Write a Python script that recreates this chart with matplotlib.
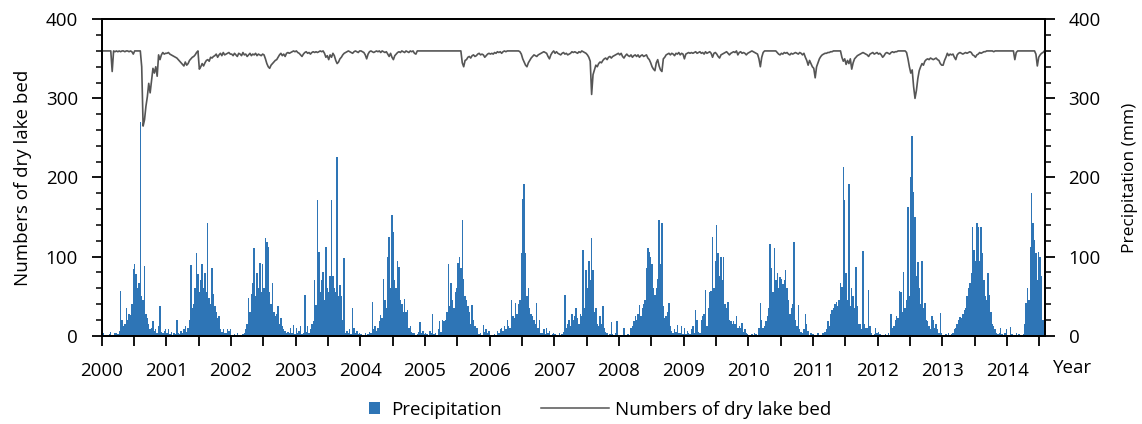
"""
Dry lake bed counts vs precipitation, 2000-2014 (8-day steps).
Writes out.png.
"""

import matplotlib

matplotlib.use("Agg")
import matplotlib.pyplot as plt
import numpy as np
from matplotlib.lines import Line2D
from matplotlib.patches import Patch
from matplotlib.ticker import MultipleLocator

OUTPUT_PATH = "out.png"
STEPS_PER_YEAR = 46  # 8-day composites
YEARS = list(range(2000, 2015))

BAR_COLOR = "#2E75B6"
LINE_COLOR = "#555555"

# precipitation (mm), one value per 8-day step
precip_2000 = [17, 3, 0, 0, 0, 2, 5, 0, 1, 3, 4, 2, 6, 56, 20, 12, 15, 35, 20, 27, 26, 40, 84, 90, 78, 60, 66, 270, 50, 45, 88, 28, 22, 15, 8, 10, 18, 6, 8, 4, 12, 38, 5, 3, 6, 8]
precip_2001 = [3, 8, 2, 5, 1, 3, 2, 20, 4, 2, 6, 3, 8, 12, 5, 10, 20, 89, 35, 40, 60, 104, 78, 55, 70, 90, 60, 79, 55, 143, 48, 40, 85, 53, 37, 30, 22, 25, 8, 5, 9, 4, 3, 9, 6, 8]
precip_2002 = [1, 0, 2, 1, 4, 0, 1, 0, 2, 3, 8, 15, 48, 30, 53, 66, 111, 50, 79, 60, 92, 55, 90, 60, 124, 119, 112, 55, 40, 66, 30, 25, 28, 37, 15, 22, 12, 8, 6, 4, 5, 3, 10, 4, 13, 2]
precip_2003 = [10, 3, 6, 12, 2, 3, 51, 5, 12, 3, 8, 15, 18, 70, 39, 171, 106, 55, 70, 81, 45, 112, 60, 55, 75, 172, 75, 60, 55, 226, 50, 64, 50, 20, 98, 4, 6, 3, 8, 2, 35, 10, 4, 6, 2, 3]
precip_2004 = [2, 1, 0, 3, 1, 2, 5, 4, 43, 8, 12, 6, 10, 18, 26, 22, 72, 45, 35, 100, 125, 60, 152, 131, 70, 60, 95, 87, 45, 40, 30, 47, 30, 32, 10, 12, 5, 3, 4, 1, 2, 5, 17, 3, 6, 2]
precip_2005 = [4, 2, 1, 6, 3, 27, 2, 4, 1, 8, 18, 5, 20, 18, 20, 30, 90, 38, 66, 45, 35, 55, 60, 92, 100, 85, 146, 72, 50, 45, 38, 30, 15, 39, 20, 12, 10, 10, 2, 3, 1, 13, 5, 8, 3, 6]
precip_2006 = [1, 0, 1, 2, 1, 6, 4, 8, 10, 6, 12, 8, 20, 12, 10, 45, 25, 22, 41, 28, 40, 45, 104, 173, 192, 104, 50, 60, 35, 28, 25, 20, 15, 41, 10, 20, 4, 3, 8, 2, 10, 3, 6, 1, 2, 3]
precip_2007 = [2, 1, 0, 3, 0, 2, 5, 51, 10, 15, 20, 12, 28, 20, 25, 35, 22, 15, 28, 25, 108, 35, 83, 60, 95, 70, 123, 83, 30, 35, 15, 12, 25, 15, 37, 10, 5, 3, 1, 2, 17, 2, 1, 3, 18, 1]
precip_2008 = [0, 1, 0, 10, 1, 0, 2, 1, 10, 12, 18, 25, 20, 28, 39, 25, 35, 40, 45, 85, 111, 106, 100, 91, 60, 52, 60, 72, 146, 90, 142, 37, 22, 25, 30, 41, 12, 6, 3, 8, 5, 13, 4, 3, 12, 2]
precip_2009 = [10, 2, 6, 4, 2, 8, 12, 4, 32, 20, 5, 3, 20, 25, 28, 58, 12, 35, 55, 57, 125, 60, 95, 140, 104, 75, 100, 70, 99, 40, 35, 43, 20, 18, 15, 18, 15, 25, 10, 12, 10, 16, 5, 8, 3, 2]
precip_2010 = [1, 0, 2, 1, 4, 2, 0, 10, 41, 20, 10, 12, 18, 25, 35, 116, 85, 55, 111, 70, 79, 60, 74, 72, 65, 70, 83, 60, 45, 28, 35, 40, 119, 20, 12, 39, 8, 5, 3, 8, 28, 15, 6, 1, 3, 2]
precip_2011 = [2, 0, 1, 3, 0, 1, 4, 3, 5, 8, 18, 12, 28, 32, 35, 40, 42, 38, 45, 66, 62, 213, 171, 79, 45, 192, 38, 60, 50, 35, 87, 38, 15, 15, 8, 107, 15, 10, 10, 58, 12, 3, 1, 2, 10, 4]
precip_2012 = [5, 2, 1, 0, 1, 2, 0, 3, 1, 28, 10, 12, 20, 25, 22, 57, 55, 30, 81, 35, 45, 163, 50, 201, 252, 182, 150, 75, 93, 60, 40, 95, 35, 41, 20, 18, 12, 8, 25, 20, 10, 15, 8, 4, 29, 3]
precip_2013 = [1, 0, 2, 0, 3, 1, 2, 4, 8, 10, 15, 20, 24, 22, 28, 32, 35, 50, 60, 66, 79, 138, 108, 95, 142, 138, 95, 138, 104, 70, 50, 45, 79, 52, 30, 15, 12, 8, 4, 2, 3, 10, 2, 1, 3, 8]
precip_2014 = [1, 0, 11, 2, 0, 1, 3, 0, 2, 1, 0, 2, 15, 41, 60, 45, 112, 180, 142, 121, 104, 70, 106, 100, 75, 20, 45]

# numbers of dry lake bed, same 8-day steps
lake_2000 = [360, 360, 360, 360, 360, 360, 360, 334, 360, 359, 360, 359, 360, 359, 360, 360, 359, 360, 360, 359, 360, 359, 356, 360, 360, 360, 360, 360, 340, 265, 273, 290, 302, 319, 307, 323, 338, 332, 340, 328, 355, 349, 355, 358, 356, 357]
lake_2001 = [357, 358, 356, 355, 354, 353, 352, 351, 349, 347, 345, 343, 341, 346, 342, 344, 348, 350, 352, 353, 355, 358, 360, 337, 340, 344, 341, 345, 348, 349, 347, 352, 351, 353, 354, 356, 352, 355, 357, 354, 358, 355, 356, 357, 358, 356]
lake_2002 = [356, 354, 357, 355, 353, 357, 356, 354, 358, 355, 356, 353, 355, 357, 354, 356, 355, 357, 354, 356, 355, 354, 356, 355, 350, 344, 340, 338, 342, 344, 346, 348, 349, 352, 355, 357, 354, 356, 353, 357, 358, 357, 358, 359, 360, 359]
lake_2003 = [360, 358, 357, 355, 353, 356, 358, 359, 357, 358, 356, 358, 359, 358, 359, 358, 359, 360, 359, 360, 357, 352, 354, 349, 355, 352, 357, 354, 348, 344, 346, 350, 352, 355, 357, 358, 359, 360, 359, 358, 357, 359, 360, 359, 358, 360]
lake_2004 = [360, 359, 358, 355, 350, 356, 359, 360, 359, 358, 359, 360, 359, 360, 358, 360, 359, 358, 359, 356, 353, 357, 352, 349, 354, 356, 358, 359, 358, 360, 359, 358, 360, 359, 358, 360, 359, 360, 357, 356, 360, 360, 360, 360, 360, 360]
lake_2005 = [360, 360, 360, 360, 360, 360, 360, 360, 360, 360, 360, 360, 360, 360, 360, 360, 360, 360, 360, 360, 360, 360, 360, 360, 360, 360, 345, 340, 348, 349, 352, 353, 351, 354, 355, 353, 354, 356, 357, 355, 356, 355, 352, 354, 356, 357]
lake_2006 = [356, 357, 356, 358, 357, 359, 358, 359, 357, 359, 360, 359, 360, 360, 360, 360, 360, 360, 360, 360, 360, 359, 356, 350, 346, 342, 340, 345, 348, 351, 353, 355, 354, 353, 355, 356, 357, 358, 359, 358, 357, 353, 350, 355, 358, 360]
lake_2007 = [357, 359, 357, 356, 355, 357, 358, 356, 357, 355, 356, 357, 359, 358, 359, 358, 357, 359, 358, 360, 359, 358, 357, 355, 352, 347, 305, 330, 336, 342, 340, 344, 346, 345, 348, 350, 351, 349, 352, 353, 351, 353, 354, 355, 356, 357]
lake_2008 = [355, 357, 353, 351, 354, 356, 354, 353, 355, 352, 354, 355, 353, 355, 352, 354, 355, 353, 354, 355, 351, 349, 345, 340, 337, 335, 345, 349, 341, 336, 334, 350, 352, 355, 356, 357, 355, 357, 356, 354, 357, 356, 358, 355, 357, 356]
lake_2009 = [350, 356, 357, 358, 357, 358, 357, 358, 359, 357, 358, 359, 357, 358, 356, 359, 357, 358, 359, 357, 352, 357, 358, 356, 353, 351, 355, 356, 357, 358, 359, 357, 355, 357, 358, 359, 358, 360, 355, 358, 359, 357, 358, 357, 355, 357]
lake_2010 = [358, 359, 360, 359, 358, 357, 356, 350, 340, 352, 358, 360, 360, 360, 360, 360, 360, 360, 360, 360, 358, 356, 355, 357, 356, 358, 357, 358, 356, 355, 357, 356, 357, 358, 357, 356, 358, 357, 355, 357, 352, 348, 342, 348, 344, 340]
lake_2011 = [338, 326, 340, 345, 350, 353, 355, 356, 357, 357, 358, 358, 359, 359, 360, 360, 360, 360, 360, 360, 352, 347, 350, 343, 348, 344, 350, 337, 345, 350, 352, 354, 355, 356, 357, 358, 357, 356, 355, 353, 356, 357, 358, 356, 357, 358]
lake_2012 = [356, 357, 355, 352, 354, 357, 358, 357, 356, 358, 359, 358, 359, 359, 360, 360, 360, 360, 360, 360, 358, 350, 340, 332, 336, 315, 300, 310, 325, 335, 340, 344, 342, 347, 349, 350, 349, 351, 350, 349, 350, 351, 349, 348, 344, 342]
lake_2013 = [342, 348, 352, 357, 354, 356, 355, 356, 352, 349, 355, 357, 358, 357, 356, 357, 358, 357, 358, 359, 358, 355, 354, 352, 355, 356, 358, 357, 358, 359, 359, 360, 360, 360, 360, 360, 359, 360, 360, 360, 360, 360, 360, 360, 360, 360]
lake_2014 = [360, 360, 360, 360, 360, 349, 358, 360, 360, 360, 360, 360, 360, 360, 360, 360, 360, 360, 360, 360, 356, 341, 352, 355, 357, 358, 360]

PRECIP_BY_YEAR = [
    precip_2000, precip_2001, precip_2002, precip_2003, precip_2004,
    precip_2005, precip_2006, precip_2007, precip_2008, precip_2009,
    precip_2010, precip_2011, precip_2012, precip_2013, precip_2014,
]
LAKE_BY_YEAR = [
    lake_2000, lake_2001, lake_2002, lake_2003, lake_2004,
    lake_2005, lake_2006, lake_2007, lake_2008, lake_2009,
    lake_2010, lake_2011, lake_2012, lake_2013, lake_2014,
]

X_MAX = 2014.585

plt.rcParams["font.family"] = ["Open Sans", "DejaVu Sans"]


def build_series(values_by_year: list[list[int]]) -> tuple[np.ndarray, np.ndarray]:
    """Flatten yearly 8-day lists into decimal-year time and value arrays."""
    times, values = [], []
    for year, year_values in zip(YEARS, values_by_year):
        for step, value in enumerate(year_values):
            times.append(year + (step + 0.5) / STEPS_PER_YEAR)
            values.append(value)
    return np.array(times), np.array(values, dtype=float)


def style_y_axis(axis) -> None:
    axis.set_ylim(0, 400)
    axis.yaxis.set_major_locator(MultipleLocator(100))
    axis.yaxis.set_minor_locator(MultipleLocator(20))
    axis.tick_params(axis="y", which="major", direction="out", length=7, width=1.3, labelsize=13.5, pad=10)
    axis.tick_params(axis="y", which="minor", direction="out", length=4.5, width=1.1)


def main() -> None:
    precip_t, precip_v = build_series(PRECIP_BY_YEAR)
    lake_t, lake_v = build_series(LAKE_BY_YEAR)

    fig = plt.figure(figsize=(11.42, 4.24), dpi=100)
    ax = fig.add_axes([0.089, 0.2083, 0.826, 0.7462])
    ax2 = ax.twinx()

    ax2.bar(precip_t, precip_v, width=1.0 / STEPS_PER_YEAR, color=BAR_COLOR, linewidth=0)
    ax.plot(lake_t, lake_v, color=LINE_COLOR, linewidth=1.2)

    # line axis on top of the bar axis
    ax.set_zorder(ax2.get_zorder() + 1)
    ax.patch.set_visible(False)

    style_y_axis(ax)
    style_y_axis(ax2)
    ax.set_ylabel("Numbers of dry lake bed", fontsize=13.5, labelpad=10)
    ax2.set_ylabel("Precipitation (mm)", fontsize=12.5, labelpad=15)

    ax.set_xlim(2000, X_MAX)
    ticks = np.arange(2000, 2014.51, 0.5)
    ax.set_xticks(ticks)
    ax.set_xticklabels([str(int(t)) if t == int(t) else "" for t in ticks])
    ax.tick_params(axis="x", direction="out", length=7, width=1.3, labelsize=13.5, pad=12)

    for axis in (ax, ax2):
        for spine in axis.spines.values():
            spine.set_linewidth(1.3)

    fig.text(1073 / 1142, 1 - 368 / 424, "Year", ha="center", va="center", fontsize=13.5)

    precip_handle = Patch(facecolor=BAR_COLOR, edgecolor="none")
    lake_handle = Line2D([0], [0], color=LINE_COLOR, linewidth=1.1)
    fig.legend(
        handles=[precip_handle], labels=["Precipitation"],
        loc="center left", bbox_to_anchor=(369 / 1142, 1 - 410 / 424),
        frameon=False, fontsize=13.5, handlelength=0.6, handleheight=0.6,
        handletextpad=0.6, borderpad=0, borderaxespad=0,
    )
    fig.legend(
        handles=[lake_handle], labels=["Numbers of dry lake bed"],
        loc="center left", bbox_to_anchor=(541 / 1142, 1 - 410 / 424),
        frameon=False, fontsize=13.5, handlelength=3.6,
        handletextpad=0.35, borderpad=0, borderaxespad=0,
    )

    fig.savefig(OUTPUT_PATH, dpi=100)
    plt.close(fig)


if __name__ == "__main__":
    main()
